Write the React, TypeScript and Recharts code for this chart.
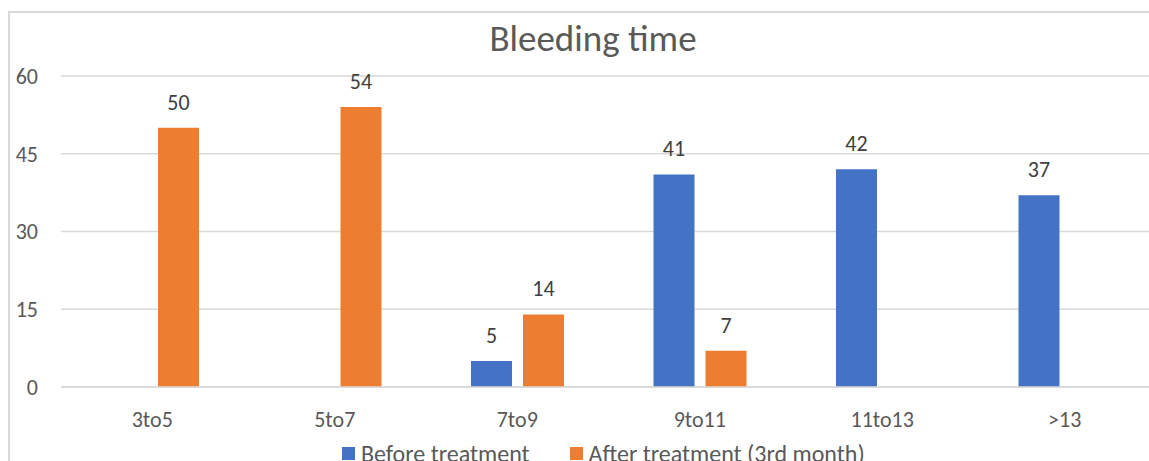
import { BarChart, Bar, XAxis, YAxis, CartesianGrid, LabelList } from 'recharts';

const CATEGORIES = ['3to5', '5to7', '7to9', '9to11', '11to13', '>13'];
const BEFORE = [0, 0, 5, 41, 42, 37];
const AFTER = [50, 54, 14, 7, 0, 0];
const Y_TICKS = [0, 15, 30, 45, 60];

const BLUE = '#4472C4';
const ORANGE = '#ED7D31';
const TEXT = '#595959';
const GRID = '#d9d9d9';
const FONT = 'Calibri, Carlito, "Noto Sans", sans-serif';

const data = CATEGORIES.map((name, i) => ({ name, before: BEFORE[i], after: AFTER[i] }));

// Excel hides labels of empty bars
const renderLabel = (props: any) => {
  const { x, y, width, value } = props;
  if (!value) return null;
  return (
    <text x={x + width / 2} y={y - 18} textAnchor="middle" fill="#404040" fontSize={22} fontFamily={FONT}>
      {value}
    </text>
  );
};

export default function App() {
  return (
    <div style={{ position: 'fixed', left: 0, top: 0, width: 1149, height: 461, overflow: 'hidden', background: '#fff', fontFamily: FONT }}>
      <div style={{ position: 'absolute', left: 8, top: 11, width: 1300, height: 600, border: `2px solid ${GRID}` }} />

      <div style={{ position: 'absolute', left: 0, width: 1186, top: 17, textAlign: 'center', fontSize: 37, color: TEXT, lineHeight: '44px' }}>
        Bleeding time
      </div>

      <div style={{ position: 'absolute', left: 0, top: 0 }}>
        <BarChart width={1200} height={461} data={data} margin={{ top: 76, right: 44, left: 8, bottom: 34 }} barSize={41} barGap={11}>
          <CartesianGrid vertical={false} stroke={GRID} strokeWidth={1.5} />
          <XAxis
            dataKey="name"
            tickLine={false}
            axisLine={{ stroke: GRID, strokeWidth: 1.5 }}
            tick={{ fill: TEXT, fontSize: 22, fontFamily: FONT }}
            tickSize={0}
            tickMargin={24}
            height={40}
          />
          <YAxis
            domain={[0, 60]}
            ticks={Y_TICKS}
            axisLine={false}
            tickLine={false}
            tick={{ fill: TEXT, fontSize: 22, fontFamily: FONT }}
            tickSize={0}
            tickMargin={23}
            width={53}
          />
          <Bar dataKey="before" fill={BLUE} isAnimationActive={false}>
            <LabelList dataKey="before" content={renderLabel} />
          </Bar>
          <Bar dataKey="after" fill={ORANGE} isAnimationActive={false}>
            <LabelList dataKey="after" content={renderLabel} />
          </Bar>
        </BarChart>
      </div>

      <div style={{ position: 'absolute', left: 342, top: 440, display: 'flex', alignItems: 'flex-start', fontSize: 24, lineHeight: '28px', color: TEXT, whiteSpace: 'nowrap' }}>
        <span style={{ width: 13, height: 13, background: BLUE, display: 'inline-block', marginRight: 6, marginTop: 7 }} />
        <span style={{ marginRight: 40 }}>Before treatment</span>
        <span style={{ width: 13, height: 13, background: ORANGE, display: 'inline-block', marginRight: 6, marginTop: 7 }} />
        <span>After treatment (3rd month)</span>
      </div>
    </div>
  );
}
